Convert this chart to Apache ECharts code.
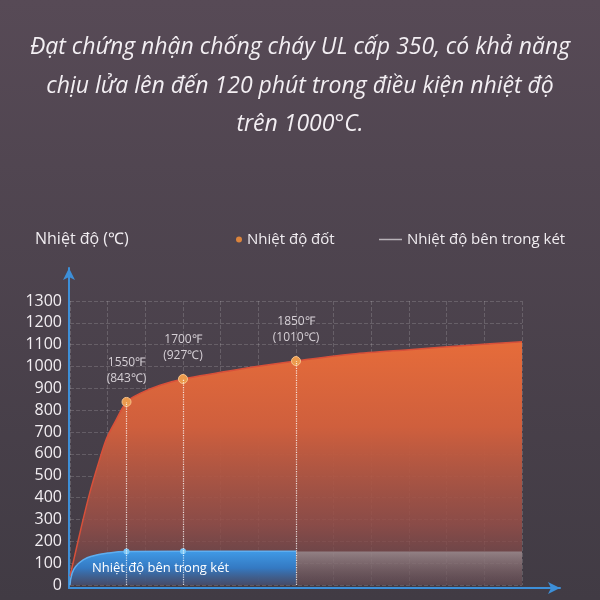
<!DOCTYPE html>
<html lang="vi">
<head>
    <meta charset="UTF-8"/>
    <script src="https://cdn.jsdelivr.net/npm/echarts@6/dist/echarts.min.js"></script>
    <title>Nhiệt độ</title>
    <style>html, body { margin: 0; padding: 0; background: #4c434d; }</style>
</head>
<body>
<div id="main" style="width: 600px;height: 600px;"></div>
<script type="text/javascript">
    // nhiệt độ đốt: thời gian (phút) / °C
    var burnTimes = [0, 1, 3, 5.3, 7.5, 9.7, 12, 15, 18.6, 23.9, 30, 45, 60, 75, 90, 105, 120];
    var burnTemps = [40, 115, 265, 425, 554, 670, 748, 838, 877, 914, 943, 988, 1025, 1057, 1077, 1096, 1114];

    // điểm đánh dấu
    var keyTimes = [15, 30, 60];
    var keyF = ['1550℉', '1700℉', '1850℉'];
    var keyC = ['(843℃)', '(927℃)', '(1010℃)'];

    // nhiệt độ bên trong két
    var innerTimes = [0, 0.5, 1.5, 3.5, 6, 10, 15, 30, 60];
    var innerTemps = [0, 50, 85, 115, 133, 146, 153, 155, 155];
    var innerMarks = [15, 30];

    // phần xám sau 60 phút
    var restTimes = [60, 120];
    var restTemps = [153, 153];

    var safeLimit = 177;
    var yTicks = { min: 0, max: 1300, interval: 100 };
    var xTicks = { min: 0, max: 120, interval: 10 };

    var captionLines = [
        'Đạt chứng nhận chống cháy UL cấp 350, có khả năng',
        'chịu lửa lên đến 120 phút trong điều kiện nhiệt độ',
        'trên 1000°C.'
    ];

    var myChart = echarts.init(document.getElementById('main'));

    var burnData = burnTimes.map(function (t, i) {
        var k = keyTimes.indexOf(t);
        if (k < 0) return [t, burnTemps[i]];
        return {
            value: [t, burnTemps[i]],
            symbol: 'circle',
            symbolSize: 9,
            label: {
                show: true,
                position: 'top',
                distance: 10,
                formatter: keyF[k] + '\n' + keyC[k],
                color: '#d6d0d6',
                fontSize: 12,
                lineHeight: 16
            }
        };
    });

    var innerData = innerTimes.map(function (t, i) {
        if (innerMarks.indexOf(t) < 0) return [t, innerTemps[i]];
        return { value: [t, innerTemps[i]], symbol: 'circle', symbolSize: 6 };
    });

    var dropLines = keyTimes.map(function (t) {
        var v = burnTemps[burnTimes.indexOf(t)];
        return [{ coord: [t, 0] }, { coord: [t, v] }];
    });

    // mỗi dòng chú thích là một title căn giữa
    var titles = captionLines.map(function (s, i) {
        return {
            text: s,
            left: 'center',
            top: 31 + i * 38.5,
            textStyle: {
                color: '#f3eff3',
                fontSize: 23,
                fontStyle: 'italic',
                fontWeight: 'normal'
            }
        };
    });
    titles.push({
        text: 'Nhiệt độ (℃)',
        left: 30,
        top: 226,
        textStyle: { color: '#f0ecf0', fontSize: 16, fontWeight: 'normal' }
    });
    titles.push({
        text: 'Nhiệt độ bên trong két',
        left: 87,
        top: 557,
        textStyle: { color: '#ffffff', fontSize: 13, fontWeight: 'normal' }
    });

    var option = {
        backgroundColor: {
            type: 'linear', x: 0, y: 0, x2: 0, y2: 1,
            colorStops: [
                { offset: 0, color: '#574a56' },
                { offset: 1, color: '#413b44' }
            ]
        },
        animation: false,
        textStyle: { fontFamily: 'Open Sans' },
        title: titles,
        legend: [
            {
                left: 231,
                top: 227,
                itemWidth: 6,
                itemHeight: 6,
                data: [{ name: 'Nhiệt độ đốt', icon: 'circle', itemStyle: { color: '#dc843c', borderWidth: 0 } }],
                textStyle: { color: '#f0ecf0', fontSize: 15 }
            },
            {
                left: 374,
                top: 227,
                itemWidth: 23,
                itemHeight: 1.5,
                data: [{ name: 'Nhiệt độ bên trong két', icon: 'rect', itemStyle: { color: '#b8b2b8' } }],
                textStyle: { color: '#f0ecf0', fontSize: 15 }
            }
        ],
        grid: [
            { left: 70, right: 78, top: 301, bottom: 15 },
            { left: 69, right: 40, top: 268, bottom: 12 }
        ],
        xAxis: [
            {
                type: 'value', gridIndex: 0,
                min: xTicks.min, max: xTicks.max, interval: xTicks.interval,
                axisLine: { show: false }, axisTick: { show: false }, axisLabel: { show: false },
                splitLine: { show: true, lineStyle: { color: 'rgba(255,255,255,0.16)', type: 'dashed' } }
            },
            {
                type: 'value', gridIndex: 1, min: 0, max: 1,
                axisLine: {
                    show: true, symbol: ['none', 'arrow'], symbolSize: [9, 12],
                    lineStyle: { color: '#3d8fd8', width: 2 }
                },
                axisTick: { show: false }, axisLabel: { show: false }, splitLine: { show: false }
            }
        ],
        yAxis: [
            {
                type: 'value', gridIndex: 0,
                min: yTicks.min, max: yTicks.max, interval: yTicks.interval,
                axisLine: { show: false }, axisTick: { show: false },
                axisLabel: {
                    color: '#f2eef2', fontSize: 16, margin: 8,
                    formatter: function (v) { return String(v); }
                },
                splitLine: { show: true, lineStyle: { color: 'rgba(255,255,255,0.16)', type: 'dashed' } }
            },
            {
                type: 'value', gridIndex: 1, min: 0, max: 1,
                axisLine: {
                    show: true, symbol: ['none', 'arrow'], symbolSize: [9, 12],
                    lineStyle: { color: '#3d8fd8', width: 2 }
                },
                axisTick: { show: false }, axisLabel: { show: false }, splitLine: { show: false }
            }
        ],
        series: [
            {
                name: 'Nhiệt độ đốt',
                type: 'line',
                xAxisIndex: 0, yAxisIndex: 0,
                data: burnData,
                symbol: 'none',
                showSymbol: true,
                smooth: 0.3,
                itemStyle: { color: '#eb9a4c', borderColor: '#f7c28a', borderWidth: 1 },
                lineStyle: { color: '#d8503a', width: 1.5 },
                areaStyle: {
                    color: {
                        type: 'linear', x: 0, y: 0, x2: 0, y2: 1,
                        colorStops: [
                            { offset: 0, color: '#e66c3a' },
                            { offset: 0.35, color: '#cf5f3d' },
                            { offset: 0.75, color: 'rgba(150,78,72,0.85)' },
                            { offset: 1, color: 'rgba(100,68,75,0.6)' }
                        ]
                    },
                    opacity: 1
                },
                markLine: {
                    silent: true,
                    symbol: ['none', 'none'],
                    label: { show: false },
                    lineStyle: { color: 'rgba(255,255,255,0.8)', type: 'dotted', width: 1.2 },
                    data: dropLines
                },
                z: 2
            },
            {
                name: 'Sau 60 phút',
                type: 'line',
                xAxisIndex: 0, yAxisIndex: 0,
                data: restTimes.map(function (t, i) { return [t, restTemps[i]]; }),
                symbol: 'none',
                lineStyle: { width: 0 },
                areaStyle: {
                    color: {
                        type: 'linear', x: 0, y: 0, x2: 0, y2: 1,
                        colorStops: [
                            { offset: 0, color: 'rgba(165,160,165,0.65)' },
                            { offset: 1, color: 'rgba(110,105,112,0.15)' }
                        ]
                    },
                    opacity: 1
                },
                z: 3
            },
            {
                name: 'Nhiệt độ bên trong két',
                type: 'line',
                xAxisIndex: 0, yAxisIndex: 0,
                data: innerData,
                symbol: 'none',
                showSymbol: true,
                smooth: 0.5,
                itemStyle: { color: '#7cc6f6' },
                lineStyle: { color: '#5eaef0', width: 1.5 },
                areaStyle: {
                    color: {
                        type: 'linear', x: 0, y: 0, x2: 0, y2: 1,
                        colorStops: [
                            { offset: 0, color: '#409ae6' },
                            { offset: 0.5, color: '#3479c2' },
                            { offset: 1, color: 'rgba(65,80,115,0.75)' }
                        ]
                    },
                    opacity: 1
                },
                markLine: {
                    silent: true,
                    symbol: ['none', 'none'],
                    lineStyle: { color: 'rgba(225,220,225,0.85)', type: 'solid', width: 1.5 },
                    label: {
                        show: true, position: 'end', formatter: safeLimit + '°C',
                        color: '#cfcacf', fontSize: 11, distance: 4
                    },
                    data: [[{ coord: [0, safeLimit] }, { coord: [123, safeLimit] }]]
                },
                z: 4
            }
        ]
    };

    myChart.setOption(option);
</script>
</body>
</html>
